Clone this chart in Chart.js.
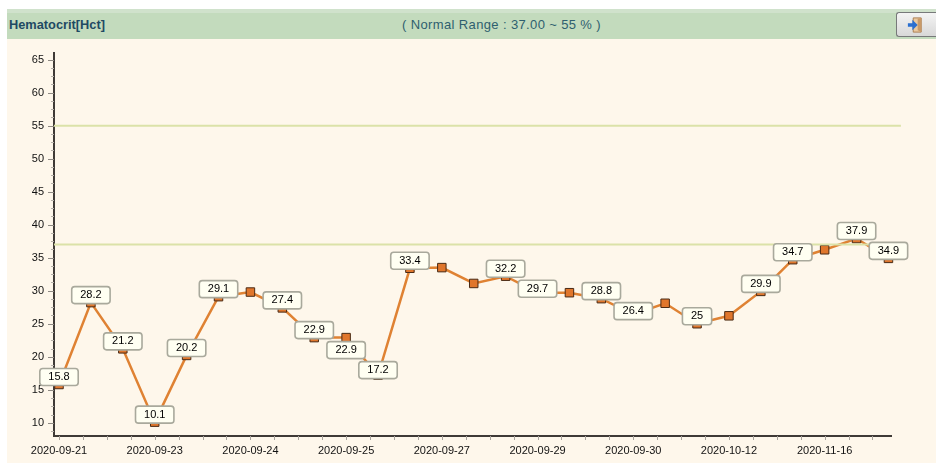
<!DOCTYPE html>
<html>
<head>
<title>Hematocrit[Hct]</title>
<script src="https://cdn.jsdelivr.net/npm/chart.js"></script>
<style>
html, body { margin: 0; padding: 0; background: #fff; overflow: hidden; }
#page { position: relative; width: 941px; height: 466px; font-family: "Liberation Sans", Arial, sans-serif; }
#panel { position: absolute; left: 7px; top: 39px; width: 929px; height: 424px; background: #fef7eb; }
#band { position: absolute; left: 7px; top: 9px; width: 929px; height: 30px; background: #c3dbbd; border-top: 4px solid #d0e2cc; box-sizing: border-box; }
#title { position: absolute; left: 9px; top: 17px; font-size: 12.8px; font-weight: bold; color: #1f4a63; }
#range { position: absolute; left: 402px; top: 17px; font-size: 13px; letter-spacing: 0.37px; color: #2f5f6f; white-space: pre; }
#btn { position: absolute; left: 896px; top: 12px; width: 40px; height: 25px; box-sizing: border-box; border: 1px solid #77797a; border-right: none; border-radius: 3px 0 0 3px; background: linear-gradient(#f4f4f4, #d8d8d8); }
#btn svg { position: absolute; left: 10px; top: 4px; }
canvas { position: absolute; left: 0; top: 0; }
</style>
</head>
<body>
<div id="page">
  <div id="band"></div>
  <div id="panel"></div>
  <div id="title">Hematocrit[Hct]</div>
  <div id="range">( Normal Range : 37.00 ~ 55 % )</div>
  <div id="btn"><svg width="16" height="16" viewBox="0 0 18 18"><path d="M7 1h9v16H7z" fill="#e9c9a0" stroke="#a8794a"/><path d="M12 2l4-1v16l-4-2z" fill="#c99a68"/><path d="M1 7h5V3l6 6-6 6v-4H1z" fill="#2a6fd0"/></svg></div>
  <canvas id="hctChart" width="941" height="466"></canvas>
</div>
<script>
const dates = ['2020-09-21', '2020-09-23', '2020-09-24', '2020-09-25', '2020-09-27', '2020-09-29', '2020-09-30', '2020-10-12', '2020-11-16'];
const hct = [15.8, 28.2, 21.2, 10.1, 20.2, 29.1, 29.8, 27.4, 22.9, 22.9, 17.2, 33.4, 33.5, 31.1, 32.2, 29.7, 29.7, 28.8, 26.4, 28.1, 25, 26.2, 29.9, 34.7, 36.2, 37.9, 34.9];
const pointLabels = ['15.8', '28.2', '21.2', '10.1', '20.2', '29.1', '', '27.4', '22.9', '22.9', '17.2', '33.4', '', '', '32.2', '29.7', '', '28.8', '26.4', '', '25', '', '29.9', '34.7', '', '37.9', '34.9'];
const normalRange = [37, 55];
const yRange = [8, 66];
const xRange = [-0.157, 26.08];
const refLineEnd = 26.39;

const points = hct.map((v, i) => ({ x: i, y: v }));
const refLine = v => [{ x: xRange[0], y: v }, { x: refLineEnd, y: v }];

// axis ticks and the little value boxes are drawn here, Chart.js has no minor ticks
const extras = {
  id: 'extras',
  afterDatasetsDraw(chart) {
    const c = chart.ctx, xs = chart.scales.x, ys = chart.scales.y;
    const left = chart.chartArea.left, bottom = chart.chartArea.bottom;
    c.save();

    c.lineWidth = 1;
    ys.ticks.forEach(t => {
      const major = t.value % 5 === 0;
      const y = Math.round(ys.getPixelForValue(t.value)) + 0.5;
      c.strokeStyle = major ? '#8f8a84' : '#b5b0a9';
      c.beginPath();
      c.moveTo(left - (major ? 6 : 3), y);
      c.lineTo(left, y);
      c.stroke();
    });
    c.strokeStyle = '#a8a39c';
    xs.ticks.forEach(t => {
      const x = Math.round(xs.getPixelForValue(t.value)) + 0.5;
      c.beginPath();
      c.moveTo(x, bottom);
      c.lineTo(x, bottom + 4);
      c.stroke();
    });

    c.font = '11px "Liberation Sans", Arial, sans-serif';
    c.textAlign = 'center';
    c.textBaseline = 'middle';
    let prev = null;
    const h = 17;
    pointLabels.forEach((txt, i) => {
      if (!txt) { prev = null; return; }
      const x = xs.getPixelForValue(i);
      const w = c.measureText(txt).width + 17;
      let bot = ys.getPixelForValue(hct[i]) + 1;
      // a box that would touch the previous one is pushed below it
      if (prev !== null && bot - h < prev + 1.5 && bot > prev - h) bot = prev + 3 + h;
      prev = bot;
      c.beginPath();
      c.roundRect(x - w / 2, bot - h, w, h, 3);
      c.fillStyle = '#fffff2';
      c.fill();
      c.strokeStyle = '#a9a99c';
      c.lineWidth = 1.6;
      c.stroke();
      c.fillStyle = '#000';
      c.fillText(txt, x, bot - h / 2);
    });
    c.restore();
  }
};

new Chart(document.getElementById('hctChart').getContext('2d'), {
  type: 'line',
  data: {
    datasets: [
      { data: refLine(normalRange[1]), borderColor: '#dbe2a8', borderWidth: 2, pointRadius: 0, clip: false },
      { data: refLine(normalRange[0]), borderColor: '#dbe2a8', borderWidth: 2, pointRadius: 0, clip: false },
      {
        data: points,
        borderColor: '#df8233',
        borderWidth: 2.5,
        pointStyle: 'rect',
        pointRadius: 6,
        pointBackgroundColor: '#e0762c',
        pointBorderColor: '#4a2a14',
        pointBorderWidth: 1,
        tension: 0,
        clip: false
      }
    ]
  },
  options: {
    responsive: false,
    animation: false,
    events: [],
    layout: { padding: { top: 53, right: 50, left: 0, bottom: 0 } },
    plugins: { legend: { display: false }, title: { display: false }, tooltip: { enabled: false } },
    scales: {
      x: {
        type: 'linear',
        min: xRange[0],
        max: xRange[1],
        afterFit(s) { s.height = 30; },
        afterBuildTicks(s) {
          const t = [];
          for (let i = 0; i <= 34; i++) t.push({ value: i * 0.75 });
          s.ticks = t;
        },
        grid: { display: false, drawTicks: false },
        border: { color: '#3f3a36', width: 2 },
        ticks: {
          autoSkip: false,
          maxRotation: 0,
          padding: 8,
          color: '#111',
          font: { size: 11, family: '"Liberation Sans", Arial, sans-serif' },
          callback: v => (Math.abs(v % 3) < 1e-6 ? dates[v / 3] : '')
        }
      },
      y: {
        min: yRange[0],
        max: yRange[1],
        afterFit(s) { s.width = 54; },
        afterBuildTicks(s) {
          const t = [];
          for (let v = 8.75; v <= 65; v += 1.25) t.push({ value: v });
          s.ticks = t;
        },
        grid: { display: false, drawTicks: false },
        border: { color: '#3f3a36', width: 2 },
        ticks: {
          autoSkip: false,
          padding: 10,
          color: '#111',
          font: { size: 11, family: '"Liberation Sans", Arial, sans-serif' },
          callback: v => (v % 5 === 0 ? v : '')
        }
      }
    }
  },
  plugins: [extras]
});
</script>
</body>
</html>
